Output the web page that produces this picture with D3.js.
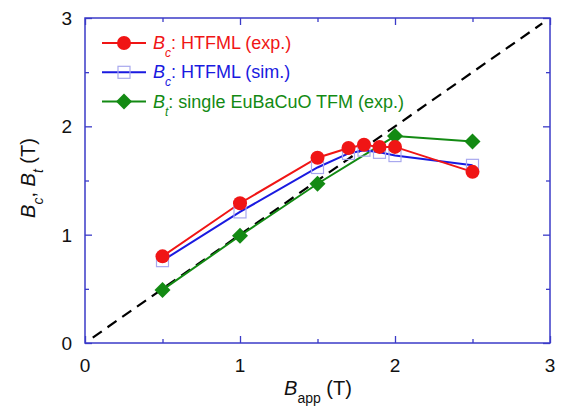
<!DOCTYPE html>
<html>
<head>
<meta charset="utf-8">
<script src="https://cdn.jsdelivr.net/npm/d3@7"></script>
<style>
  body { margin: 0; background: #fff; }
  svg { font-family: "Liberation Sans", Arial, sans-serif; }
</style>
</head>
<body>
<svg id="chart" width="563" height="414"></svg>
<script>
// data
const bappExp = [0.5, 1.0, 1.5, 1.7, 1.8, 1.9, 2.0, 2.5];
const bcExp   = [0.80, 1.29, 1.71, 1.80, 1.83, 1.81, 1.81, 1.58];
const bappSim = [0.5, 1.0, 1.5, 1.7, 1.8, 1.9, 2.0, 2.5];
const bcSim   = [0.76, 1.21, 1.62, 1.75, 1.78, 1.76, 1.73, 1.64];
const bappTfm = [0.5, 1.0, 1.5, 2.0, 2.5];
const btTfm   = [0.49, 0.99, 1.47, 1.91, 1.86];
const refLine = [0.05, 2.95];
const majorTicks = [0, 1, 2, 3];
const minorTicks = [0.5, 1.5, 2.5];

const margin = { top: 18, right: 13, bottom: 71, left: 85 };
const W = 563, H = 414;
const width = W - margin.left - margin.right;
const height = H - margin.top - margin.bottom;
const frameColor = '#3b3bc8';

const svg = d3.select('#chart');
const g = svg.append('g').attr('transform', `translate(${margin.left},${margin.top})`);

const x = d3.scaleLinear().domain([0, 3]).range([0, width]);
const y = d3.scaleLinear().domain([0, 3]).range([height, 0]);

// ticks (inward on all four sides)
function tickSide(axisFn, scale, vals, len, transform) {
  const a = g.append('g').attr('transform', transform)
    .call(axisFn(scale).tickValues(vals).tickSize(len).tickFormat(''));
  a.select('.domain').remove();
  a.selectAll('line').attr('stroke', frameColor).attr('stroke-width', 1.3);
}
tickSide(d3.axisTop, x, majorTicks, 7, `translate(0,${height})`);
tickSide(d3.axisTop, x, minorTicks, 4, `translate(0,${height})`);
tickSide(d3.axisBottom, x, majorTicks, 7, 'translate(0,0)');
tickSide(d3.axisBottom, x, minorTicks, 4, 'translate(0,0)');
tickSide(d3.axisRight, y, majorTicks, 7, 'translate(0,0)');
tickSide(d3.axisRight, y, minorTicks, 4, 'translate(0,0)');
tickSide(d3.axisLeft, y, majorTicks, 7, `translate(${width},0)`);
tickSide(d3.axisLeft, y, minorTicks, 4, `translate(${width},0)`);

g.append('rect')
  .attr('width', width).attr('height', height)
  .attr('fill', 'none').attr('stroke', frameColor).attr('stroke-width', 1.5);

// tick labels
g.selectAll('.xlab').data(majorTicks).join('text')
  .attr('x', d => x(d)).attr('y', height + 29)
  .attr('text-anchor', 'middle').attr('font-size', 19).attr('fill', '#111')
  .text(d => d);
g.selectAll('.ylab').data(majorTicks).join('text')
  .attr('x', -13).attr('y', d => y(d) + 7)
  .attr('text-anchor', 'end').attr('font-size', 19).attr('fill', '#111')
  .text(d => d);

// axis titles
const xt = svg.append('text').attr('x', 318).attr('y', 395)
  .attr('text-anchor', 'middle').attr('font-size', 20).attr('fill', '#111');
xt.append('tspan').attr('font-style', 'italic').text('B');
xt.append('tspan').attr('font-size', 14).attr('dy', 8).text('app');
xt.append('tspan').attr('dy', -8).text(' (T)');

const yt = svg.append('text')
  .attr('transform', 'translate(35,178) rotate(-90)')
  .attr('text-anchor', 'middle').attr('font-size', 20).attr('fill', '#111');
yt.append('tspan').attr('font-style', 'italic').text('B');
yt.append('tspan').attr('font-size', 14).attr('font-style', 'italic').attr('dy', 8).text('c');
yt.append('tspan').attr('dy', -8).text(', ');
yt.append('tspan').attr('font-style', 'italic').text('B');
yt.append('tspan').attr('font-size', 14).attr('font-style', 'italic').attr('dy', 8).text('t');
yt.append('tspan').attr('dy', -8).text(' (T)');

const plot = g.append('g');

// y = x reference
plot.append('line')
  .attr('x1', x(refLine[0])).attr('y1', y(refLine[0]))
  .attr('x2', x(refLine[1])).attr('y2', y(refLine[1]))
  .attr('stroke', '#000').attr('stroke-width', 2.2).attr('stroke-dasharray', '11,7');

const line = d3.line().x(d => x(d[0])).y(d => y(d[1]));
const zip = (a, b) => a.map((v, i) => [v, b[i]]);

const series = [
  { pts: zip(bappTfm, btTfm), color: '#138a13', marker: 'diamond' },
  { pts: zip(bappSim, bcSim), color: '#1a1ae0', marker: 'square' },
  { pts: zip(bappExp, bcExp), color: '#f01515', marker: 'circle' }
];

function drawMarker(sel, type, color) {
  if (type === 'circle') {
    sel.append('circle').attr('r', 7).attr('fill', color);
  } else if (type === 'square') {
    sel.append('rect').attr('x', -6).attr('y', -6).attr('width', 12).attr('height', 12)
      .attr('fill', 'none').attr('stroke', '#a8a8ee').attr('stroke-width', 1.2);
  } else {
    sel.append('path').attr('d', 'M0,-8L8,0L0,8L-8,0Z').attr('fill', color);
  }
}

// lines first, then markers on top
series.forEach(s => {
  plot.append('path').datum(s.pts).attr('d', line)
    .attr('fill', 'none').attr('stroke', s.color).attr('stroke-width', 2);
});
series.forEach(s => {
  s.pts.forEach(p => {
    const m = plot.append('g').attr('transform', `translate(${x(p[0])},${y(p[1])})`);
    drawMarker(m, s.marker, s.color);
  });
});

// legend
const legendItems = [
  { color: '#f01515', marker: 'circle', sub: 'c', label: ': HTFML (exp.)' },
  { color: '#1a1ae0', marker: 'square', sub: 'c', label: ': HTFML (sim.)' },
  { color: '#138a13', marker: 'diamond', sub: 't', label: ': single EuBaCuO TFM (exp.)' }
];
const leg = svg.append('g');
legendItems.forEach((d, i) => {
  const yy = 43 + i * 29.3;
  leg.append('line').attr('x1', 102).attr('x2', 146).attr('y1', yy).attr('y2', yy)
    .attr('stroke', d.color).attr('stroke-width', 2);
  drawMarker(leg.append('g').attr('transform', `translate(124,${yy})`), d.marker, d.color);
  const t = leg.append('text').attr('x', 153).attr('y', yy + 6)
    .attr('font-size', 18).attr('fill', d.color);
  t.append('tspan').attr('font-style', 'italic').text('B');
  t.append('tspan').attr('font-style', 'italic').attr('font-size', 12).attr('dy', 8).text(d.sub);
  t.append('tspan').attr('dy', -8).text(d.label);
});
</script>
</body>
</html>
